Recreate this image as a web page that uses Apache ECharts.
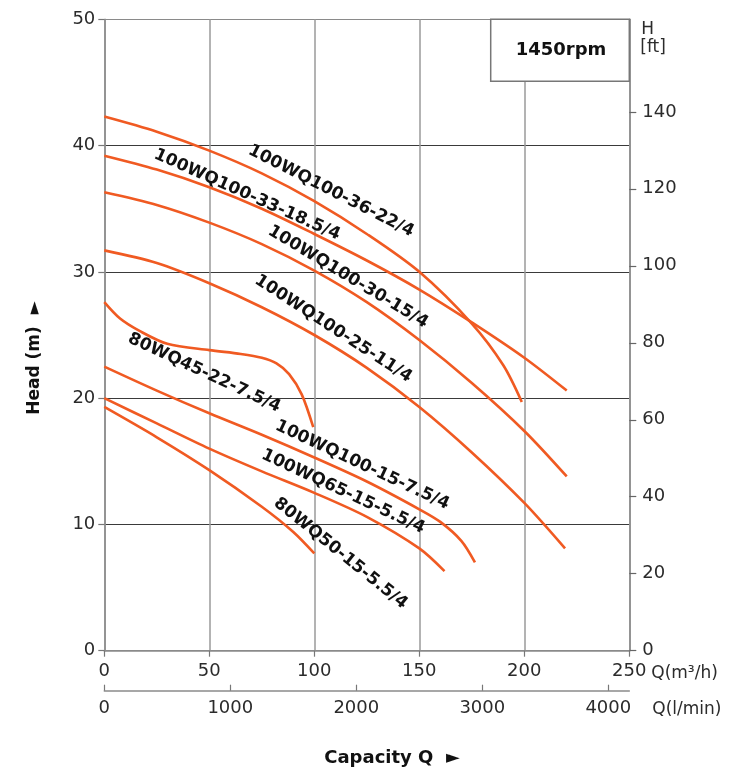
<!DOCTYPE html>
<html>
<head>
<meta charset="utf-8">
<script src="https://cdn.jsdelivr.net/npm/echarts/dist/echarts.min.js"></script>
<style>
html,body{margin:0;padding:0;background:#fff;}
#chart{width:732px;height:775px;}
</style>
</head>
<body>
<div id="chart"></div>
<script>
// ---- tick labels ----
const qTicks = [0, 50, 100, 150, 200, 250];
const lpmTicks = [0, 1000, 2000, 3000, 4000];
const headTicks = [0, 10, 20, 30, 40, 50];
const ftTicks = [0, 20, 40, 60, 80, 100, 120, 140];

// ---- curves (Q m3/h, H m) ----
const nameA = '100WQ100-36-22/4';
const qA = [0, 25, 50, 75, 100, 125, 150, 175, 190, 198.8];
const hA = [42.3, 41.1, 39.6, 37.8, 35.6, 33.0, 30.0, 25.9, 22.6, 19.7];

const nameB = '100WQ100-33-18.5/4';
const qB = [0, 25, 50, 75, 100, 125, 150, 175, 200, 220.2];
const hB = [39.2, 38.1, 36.7, 35.0, 33.0, 30.9, 28.6, 26.0, 23.2, 20.6];

const nameC = '100WQ100-30-15/4';
const qC = [0, 25, 50, 75, 100, 125, 150, 175, 200, 220.2];
const hC = [36.3, 35.3, 33.9, 32.2, 30.1, 27.6, 24.6, 21.2, 17.4, 13.8];

const nameD = '100WQ100-25-11/4';
const qD = [0, 25, 50, 75, 100, 125, 150, 175, 200, 219.4];
const hD = [31.7, 30.7, 29.1, 27.2, 25.0, 22.4, 19.3, 15.7, 11.7, 8.1];

const nameE = '80WQ45-22-7.5/4';
const qE = [0, 7.5, 17, 30, 50, 65, 75, 82, 88, 94, 99.5];
const hE = [27.6, 26.3, 25.3, 24.3, 23.8, 23.5, 23.2, 22.75, 21.9, 20.3, 17.7];

const nameF = '100WQ100-15-7.5/4';
const qF = [0, 25, 50, 75, 100, 125, 150, 160, 170, 176.5];
const hF = [22.5, 20.6, 18.8, 17.1, 15.3, 13.4, 11.2, 10.2, 8.7, 7.0];

const nameG = '100WQ65-15-5.5/4';
const qG = [0, 25, 50, 75, 100, 125, 150, 162];
const hG = [20.0, 18.0, 16.0, 14.2, 12.5, 10.6, 8.1, 6.3];

const nameH = '80WQ50-15-5.5/4';
const qH = [0, 25, 50, 75, 90, 100];
const hH = [19.3, 16.9, 14.3, 11.4, 9.4, 7.7];

// ---- curve labels (text, anchor Q, anchor H, angle deg) ----
const labelTexts = [nameA, nameB, nameC, nameD, nameE, nameF, nameG, nameH];
const labelQ = [108, 68, 116, 109, 47.6, 122.8, 113.7, 112.5];
const labelH = [36.4, 36.1, 29.6, 25.5, 22.0, 14.7, 12.6, 7.7];
const labelAngle = [27, 24, 31, 33, 25, 25, 25, 39];

const rpmText = '1450rpm';

const curveColor = '#f05a22';
const font = 'DejaVu Sans';
const textColor = '#2b2b2b';

function pairs(q, h) { return q.map((v, i) => [v, h[i]]); }
const curves = [[nameA, qA, hA], [nameB, qB, hB], [nameC, qC, hC], [nameD, qD, hD],
                [nameE, qE, hE], [nameF, qF, hF], [nameG, qG, hG], [nameH, qH, hH]];

const chart = echarts.init(document.getElementById('chart'), null, {renderer: 'canvas'});
const M_PER_FT = 0.3048;

const option = {
  animation: false,
  backgroundColor: '#fff',
  grid: {left: 104.3, right: 102.7, top: 19.3, bottom: 124.3, containLabel: false},
  xAxis: [
    {
      type: 'value', min: 0, max: 250, interval: 50, position: 'bottom',
      axisLine: {show: true, lineStyle: {color: '#8a8a8a', width: 1.5}},
      axisTick: {show: true, inside: false, length: 6, lineStyle: {color: '#777', width: 1.2}},
      axisLabel: {show: true, margin: 12, fontSize: 18, fontFamily: font, color: textColor},
      splitLine: {show: true, lineStyle: {color: '#9a9a9a', width: 1.5}}
    },
    {
      type: 'value', min: 0, max: 250 * 1000 / 60, position: 'bottom', offset: 40,
      axisLine: {show: true, onZero: false, lineStyle: {color: '#8a8a8a', width: 1.5}},
      axisTick: {show: true, inside: true, length: 6, customValues: lpmTicks, lineStyle: {color: '#777', width: 1.2}},
      axisLabel: {show: true, margin: 9, fontSize: 18, fontFamily: font, color: textColor, customValues: lpmTicks,
                  formatter: v => String(Math.round(v))},
      splitLine: {show: false}
    }
  ],
  yAxis: [
    {
      type: 'value', min: 0, max: 50, interval: 10, position: 'left',
      axisLine: {show: true, onZero: false, lineStyle: {color: '#8a8a8a', width: 1.5}},
      axisTick: {show: true, inside: false, length: 6, lineStyle: {color: '#777', width: 1.2}},
      axisLabel: {show: true, margin: 9, fontSize: 18, fontFamily: font, color: textColor},
      splitLine: {show: true, lineStyle: {color: ['#888', '#3a3a3a', '#3a3a3a', '#3a3a3a', '#3a3a3a', '#8a8a8a'], width: 1.2}}
    },
    {
      type: 'value', min: 0, max: 50 / M_PER_FT, position: 'right',
      axisLine: {show: true, onZero: false, lineStyle: {color: '#8a8a8a', width: 1.5}},
      axisTick: {show: true, inside: false, length: 7, customValues: ftTicks, lineStyle: {color: '#666', width: 1.2}},
      axisLabel: {show: true, margin: 13, fontSize: 18, fontFamily: font, color: textColor, customValues: ftTicks,
                  formatter: v => String(Math.round(v))},
      splitLine: {show: false}
    }
  ],
  series: curves.map(c => ({
    name: c[0], type: 'line', xAxisIndex: 0, yAxisIndex: 0,
    data: pairs(c[1], c[2]), smooth: 0.3, showSymbol: false, symbol: 'none',
    lineStyle: {color: curveColor, width: 2.6}, z: 5
  }))
};
chart.setOption(option);

function px(q, h) { return chart.convertToPixel({xAxisIndex: 0, yAxisIndex: 0}, [q, h]); }

const g = [];
// curve labels
labelTexts.forEach((t, i) => {
  const p = px(labelQ[i], labelH[i]);
  g.push({
    type: 'text', x: p[0], y: p[1], rotation: -labelAngle[i] * Math.PI / 180, z: 20,
    style: {text: t, x: 0, y: 0, align: 'center', verticalAlign: 'middle',
            font: 'bold 17px "' + font + '"', fill: '#111'}
  });
});
// rpm box
const b0 = px(184, 50), b1 = px(250, 45.1);
g.push({type: 'rect', z: 15, shape: {x: b0[0], y: b0[1], width: b1[0] - b0[0], height: b1[1] - b0[1]},
        style: {fill: '#fff', stroke: '#777', lineWidth: 1.5}});
g.push({type: 'text', z: 16, x: (b0[0] + b1[0]) / 2 + 1, y: (b0[1] + b1[1]) / 2,
        style: {text: rpmText, align: 'center', verticalAlign: 'middle', font: 'bold 18px "' + font + '"', fill: '#111'}});
// right axis unit
const rx = px(250, 0)[0];
g.push({type: 'text', z: 16, x: rx + 12, y: 30, style: {text: 'H', align: 'left', verticalAlign: 'middle', font: '17px "' + font + '"', fill: textColor}});
g.push({type: 'text', z: 16, x: rx + 11, y: 48, style: {text: '[ft]', align: 'left', verticalAlign: 'middle', font: '17px "' + font + '"', fill: textColor}});
// bottom axis units
const by = px(0, 0)[1];
g.push({type: 'text', z: 16, x: rx + 22, y: by + 23, style: {text: 'Q(m³/h)', align: 'left', verticalAlign: 'middle', font: '17px "' + font + '"', fill: textColor}});
g.push({type: 'text', z: 16, x: rx + 23, y: by + 59, style: {text: 'Q(l/min)', align: 'left', verticalAlign: 'middle', font: '17px "' + font + '"', fill: textColor}});
// axis titles
g.push({type: 'text', z: 16, x: 35, y: 358, rotation: Math.PI / 2,
        style: {text: 'Head (m)  ►', align: 'center', verticalAlign: 'middle', font: 'bold 17px "' + font + '"', fill: '#111'}});
g.push({type: 'text', z: 16, x: 392, y: 758,
        style: {text: 'Capacity Q  ►', align: 'center', verticalAlign: 'middle', font: 'bold 18px "' + font + '"', fill: '#111'}});

chart.setOption({graphic: g});
</script>
</body>
</html>
